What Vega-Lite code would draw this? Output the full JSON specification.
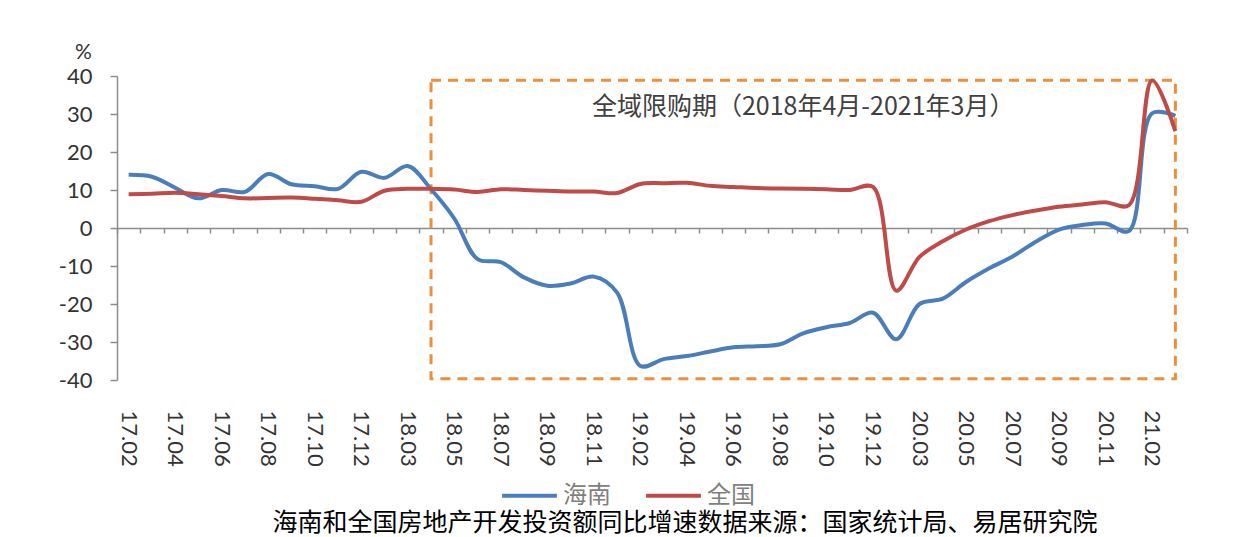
{
  "$schema": "https://vega.github.io/schema/vega-lite/v6.json",
  "width": 1070,
  "height": 304,
  "autosize": {"type": "none"},
  "padding": {"left": 117, "top": 76, "right": 50, "bottom": 157},
  "background": "white",
  "config": {
    "view": {"stroke": null},
    "font": "Lato",
    "axis": {"labelOverlap": false, "labelSeparation": 0}
  },
  "title": {
    "text": "海南和全国房地产开发投资额同比增速数据来源：国家统计局、易居研究院",
    "orient": "bottom",
    "anchor": "middle",
    "frame": "group",
    "dx": 33,
    "offset": 3,
    "font": "Noto Sans CJK SC",
    "fontSize": 25,
    "fontWeight": "normal",
    "color": "#000000"
  },
  "datasets": {
    "invest": [
      {"month": "17.02", "series": "海南", "value": 14.0},
      {"month": "17.03", "series": "海南", "value": 13.5},
      {"month": "17.04", "series": "海南", "value": 10.6},
      {"month": "17.05", "series": "海南", "value": 7.8},
      {"month": "17.06", "series": "海南", "value": 10.0},
      {"month": "17.07", "series": "海南", "value": 9.5},
      {"month": "17.08", "series": "海南", "value": 14.2},
      {"month": "17.09", "series": "海南", "value": 11.5},
      {"month": "17.10", "series": "海南", "value": 11.0},
      {"month": "17.11", "series": "海南", "value": 10.3},
      {"month": "17.12", "series": "海南", "value": 14.8},
      {"month": "18.02", "series": "海南", "value": 13.2},
      {"month": "18.03", "series": "海南", "value": 16.3},
      {"month": "18.04", "series": "海南", "value": 10.2},
      {"month": "18.05", "series": "海南", "value": 2.5},
      {"month": "18.06", "series": "海南", "value": -8.2},
      {"month": "18.07", "series": "海南", "value": -9.0},
      {"month": "18.08", "series": "海南", "value": -13.0},
      {"month": "18.09", "series": "海南", "value": -15.2},
      {"month": "18.10", "series": "海南", "value": -14.6},
      {"month": "18.11", "series": "海南", "value": -12.8},
      {"month": "18.12", "series": "海南", "value": -17.0},
      {"month": "19.02", "series": "海南", "value": -36.3},
      {"month": "19.03", "series": "海南", "value": -34.5},
      {"month": "19.04", "series": "海南", "value": -33.7},
      {"month": "19.05", "series": "海南", "value": -32.5},
      {"month": "19.06", "series": "海南", "value": -31.4},
      {"month": "19.07", "series": "海南", "value": -31.1},
      {"month": "19.08", "series": "海南", "value": -30.6},
      {"month": "19.09", "series": "海南", "value": -27.7},
      {"month": "19.10", "series": "海南", "value": -26.1},
      {"month": "19.11", "series": "海南", "value": -25.0},
      {"month": "19.12", "series": "海南", "value": -22.3},
      {"month": "20.02", "series": "海南", "value": -29.3},
      {"month": "20.03", "series": "海南", "value": -20.0},
      {"month": "20.04", "series": "海南", "value": -18.6},
      {"month": "20.05", "series": "海南", "value": -14.2},
      {"month": "20.06", "series": "海南", "value": -10.6},
      {"month": "20.07", "series": "海南", "value": -7.5},
      {"month": "20.08", "series": "海南", "value": -3.6},
      {"month": "20.09", "series": "海南", "value": -0.4},
      {"month": "20.10", "series": "海南", "value": 0.8},
      {"month": "20.11", "series": "海南", "value": 1.2},
      {"month": "20.12", "series": "海南", "value": -0.8},
      {"month": "21.02", "series": "海南", "value": 30.2},
      {"month": "21.03", "series": "海南", "value": 29.5},
      {"month": "17.02", "series": "全国", "value": 8.9},
      {"month": "17.03", "series": "全国", "value": 9.0},
      {"month": "17.04", "series": "全国", "value": 9.3},
      {"month": "17.05", "series": "全国", "value": 8.9},
      {"month": "17.06", "series": "全国", "value": 8.4},
      {"month": "17.07", "series": "全国", "value": 7.8},
      {"month": "17.08", "series": "全国", "value": 7.9},
      {"month": "17.09", "series": "全国", "value": 8.0},
      {"month": "17.10", "series": "全国", "value": 7.7},
      {"month": "17.11", "series": "全国", "value": 7.3},
      {"month": "17.12", "series": "全国", "value": 6.9},
      {"month": "18.02", "series": "全国", "value": 9.8},
      {"month": "18.03", "series": "全国", "value": 10.3},
      {"month": "18.04", "series": "全国", "value": 10.3},
      {"month": "18.05", "series": "全国", "value": 10.1},
      {"month": "18.06", "series": "全国", "value": 9.5},
      {"month": "18.07", "series": "全国", "value": 10.2},
      {"month": "18.08", "series": "全国", "value": 10.0},
      {"month": "18.09", "series": "全国", "value": 9.8},
      {"month": "18.10", "series": "全国", "value": 9.6},
      {"month": "18.11", "series": "全国", "value": 9.6},
      {"month": "18.12", "series": "全国", "value": 9.2},
      {"month": "19.02", "series": "全国", "value": 11.6},
      {"month": "19.03", "series": "全国", "value": 11.8},
      {"month": "19.04", "series": "全国", "value": 11.9},
      {"month": "19.05", "series": "全国", "value": 11.1},
      {"month": "19.06", "series": "全国", "value": 10.8},
      {"month": "19.07", "series": "全国", "value": 10.5},
      {"month": "19.08", "series": "全国", "value": 10.4},
      {"month": "19.09", "series": "全国", "value": 10.3},
      {"month": "19.10", "series": "全国", "value": 10.2},
      {"month": "19.11", "series": "全国", "value": 10.0},
      {"month": "19.12", "series": "全国", "value": 10.8},
      {"month": "20.02", "series": "全国", "value": -16.5},
      {"month": "20.03", "series": "全国", "value": -7.6},
      {"month": "20.04", "series": "全国", "value": -3.5},
      {"month": "20.05", "series": "全国", "value": -0.4},
      {"month": "20.06", "series": "全国", "value": 1.8},
      {"month": "20.07", "series": "全国", "value": 3.4},
      {"month": "20.08", "series": "全国", "value": 4.6},
      {"month": "20.09", "series": "全国", "value": 5.6},
      {"month": "20.10", "series": "全国", "value": 6.2},
      {"month": "20.11", "series": "全国", "value": 6.8},
      {"month": "20.12", "series": "全国", "value": 6.0},
      {"month": "21.02", "series": "全国", "value": 38.8},
      {"month": "21.03", "series": "全国", "value": 25.5}
    ],
    "box": [
      {"month": "18.04", "value": 38.9, "ord": 1},
      {"month": "21.03", "value": 38.9, "ord": 2},
      {"month": "21.03", "value": -39.7, "ord": 3},
      {"month": "18.04", "value": -39.7, "ord": 4},
      {"month": "18.04", "value": 38.9, "ord": 5}
    ],
    "note": [
      {"month": "19.09", "value": 31.8, "text": "全域限购期（2018年4月-2021年3月）"}
    ]
  },
  "layer": [
    {
      "data": {"name": "box"},
      "mark": {"type": "line", "color": "#EE8E3A", "strokeWidth": 3, "strokeDash": [10, 7], "interpolate": "linear"},
      "encoding": {
        "x": {
          "field": "month", "type": "ordinal", "bandPosition": 0.5,
          "scale": {"type": "band", "paddingInner": 0, "paddingOuter": 0},
          "axis": {
            "orient": "bottom", "offset": -152, "title": null,
            "labels": false, "grid": false,
            "domain": true, "domainColor": "#8c8c8c", "domainWidth": 1.5,
            "ticks": true, "tickBand": "extent", "tickSize": 5, "tickColor": "#8c8c8c", "tickWidth": 1.5
          }
        },
        "y": {
          "field": "value", "type": "quantitative",
          "scale": {"domain": [-40, 40], "nice": false, "zero": false},
          "axis": {
            "values": [-40, -30, -20, -10, 0, 10, 20, 30, 40],
            "tickCount": 9,
            "labelOverlap": false,
            "labelSeparation": 0,
            "labelExpr": "'' + datum.value",
            "grid": false, "domainColor": "#8c8c8c", "domainWidth": 1.5,
            "tickColor": "#8c8c8c", "tickSize": 7, "tickWidth": 1.5,
            "labelFont": "Lato", "labelFontSize": 22, "labelColor": "#333333", "labelPadding": 18,
            "title": "%", "titleAngle": 0, "titleX": -34, "titleY": -24,
            "titleAlign": "center", "titleBaseline": "middle",
            "titleFont": "Lato", "titleFontSize": 21, "titleFontWeight": "normal", "titleColor": "#333333"
          }
        },
        "order": {"field": "ord", "type": "quantitative"}
      }
    },
    {
      "data": {"name": "note"},
      "mark": {"type": "text", "font": "Noto Sans CJK SC", "fontSize": 25, "color": "#404040", "align": "center", "baseline": "middle"},
      "encoding": {
        "x": {"field": "month", "type": "ordinal", "bandPosition": 0.5, "axis": null},
        "y": {"field": "value", "type": "quantitative"},
        "text": {"field": "text"}
      }
    },
    {
      "data": {"name": "invest"},
      "mark": {"type": "line", "strokeWidth": 4, "interpolate": "catmull-rom"},
      "encoding": {
        "x": {
          "field": "month", "type": "ordinal", "bandPosition": 0.5,
          "axis": {
            "orient": "bottom", "title": null, "domain": false, "ticks": false, "grid": false,
            "labelAngle": 90, "labelAlign": "left", "labelBaseline": "middle", "labelPadding": 30,
            "labelFont": "Lato", "labelFontSize": 22, "labelColor": "#333333", "labelOverlap": false,
            "labelExpr": "indexof(['17.02','17.04','17.06','17.08','17.10','17.12','18.03','18.05','18.07','18.09','18.11','19.02','19.04','19.06','19.08','19.10','19.12','20.03','20.05','20.07','20.09','20.11','21.02'], datum.label) >= 0 ? datum.label : ''"
          }
        },
        "y": {
          "field": "value", "type": "quantitative"
        },
        "color": {
          "field": "series", "type": "nominal",
          "scale": {"domain": ["海南", "全国"], "range": ["#4A7EBB", "#BE4B48"]},
          "legend": {
            "title": null, "orient": "none", "direction": "horizontal",
            "legendX": 383, "legendY": 390,
            "symbolType": "stroke", "symbolSize": 3000, "symbolStrokeWidth": 4,
            "labelFont": "Noto Sans CJK SC", "labelFontSize": 24, "labelColor": "#7f7f7f",
            "labelOffset": 4, "columnPadding": 27
          }
        }
      }
    }
  ],
  "resolve": {"axis": {"x": "independent"}}
}
